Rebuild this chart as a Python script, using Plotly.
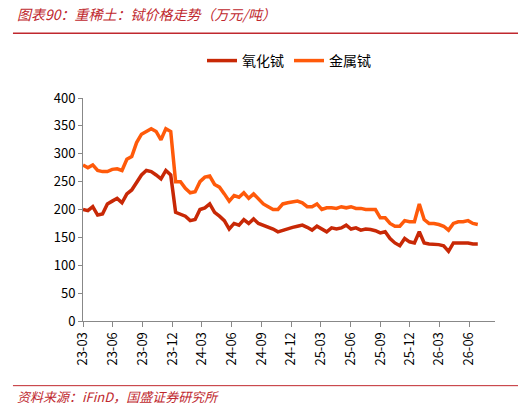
import plotly.graph_objects as go
import pandas as pd

# half-month sample points starting 2023-03-01
oxide = [200, 198, 205, 190, 192, 210, 215, 220, 212, 228, 235, 250, 262, 270, 268, 262, 255, 270, 262,
         195, 192, 188, 180, 182, 200, 203, 210, 195, 188, 180, 165, 175, 172, 182, 175, 183, 175, 172,
         168, 165, 160, 163, 165, 168, 170, 172, 168, 163, 170, 165, 160, 167, 165, 167, 172, 165, 167,
         163, 165, 164, 162, 158, 160, 148, 140, 135, 148, 142, 140, 160, 140, 138, 138, 137, 135, 125,
         140, 140, 140, 140, 138, 138]
metal = [280, 275, 280, 270, 268, 268, 272, 273, 270, 290, 295, 320, 335, 340, 345, 340, 325, 345, 340,
         250, 250, 238, 230, 232, 250, 258, 260, 245, 240, 228, 215, 225, 222, 230, 220, 228, 218, 210,
         205, 200, 200, 210, 212, 213, 215, 212, 205, 205, 210, 200, 203, 203, 202, 205, 203, 205, 202,
         202, 200, 200, 200, 185, 185, 175, 170, 170, 180, 178, 178, 210, 182, 175, 175, 173, 170, 163,
         175, 178, 178, 180, 175, 173]
dates = [pd.Timestamp("2023-03-01") + pd.DateOffset(days=15 * i) for i in range(len(oxide))]
tick_vals = pd.date_range("2023-03-01", "2026-06-01", freq="3MS")
tick_text = [d.strftime("%y-%m") for d in tick_vals]

fig = go.Figure()
fig.add_trace(go.Scatter(x=dates, y=oxide, name="氧化铽", mode="lines",
                         line=dict(color="#C82806", width=3.5)))
fig.add_trace(go.Scatter(x=dates, y=metal, name="金属铽", mode="lines",
                         line=dict(color="#FF5A0A", width=3.5)))

fig.update_layout(
    width=526, height=410, plot_bgcolor="white", paper_bgcolor="white",
    margin=dict(l=75, r=39, t=90, b=97),
    font=dict(family="Noto Sans CJK SC", size=13, color="black"),
    legend=dict(orientation="h", x=0.5, xanchor="center", y=1.166, yanchor="middle",
                font=dict(size=14)),
)
fig.update_xaxes(range=[pd.Timestamp("2023-03-01"), pd.Timestamp("2026-08-20")],
                 tickvals=tick_vals, ticktext=tick_text, tickangle=-90,
                 showline=True, linecolor="#888", ticks="outside", ticklen=5, tickcolor="#888",
                 showgrid=False)
fig.update_yaxes(range=[0, 400], dtick=50, showline=True, linecolor="#888",
                 ticks="outside", ticklen=4, tickcolor="#888", showgrid=False)

fig.add_annotation(text="<i>图表90：重稀土：铽价格走势（万元/吨）</i>", xref="paper", yref="paper",
                   x=-0.165, y=1.376, xanchor="left", yanchor="middle", showarrow=False,
                   font=dict(size=14, color="#C0282E"))
fig.add_shape(type="line", xref="paper", yref="paper", x0=-0.17, x1=1.08, y0=1.29, y1=1.29,
              line=dict(color="#C0282E", width=1.5))
fig.add_shape(type="line", xref="paper", yref="paper", x0=-0.17, x1=1.08, y0=-0.29, y1=-0.29,
              line=dict(color="#C0282E", width=1))
fig.add_annotation(text="<i>资料来源：iFinD，国盛证券研究所</i>", xref="paper", yref="paper",
                   x=-0.165, y=-0.34, xanchor="left", yanchor="middle", showarrow=False,
                   font=dict(size=13, color="#C0282E"))

fig.write_html("out.html")
